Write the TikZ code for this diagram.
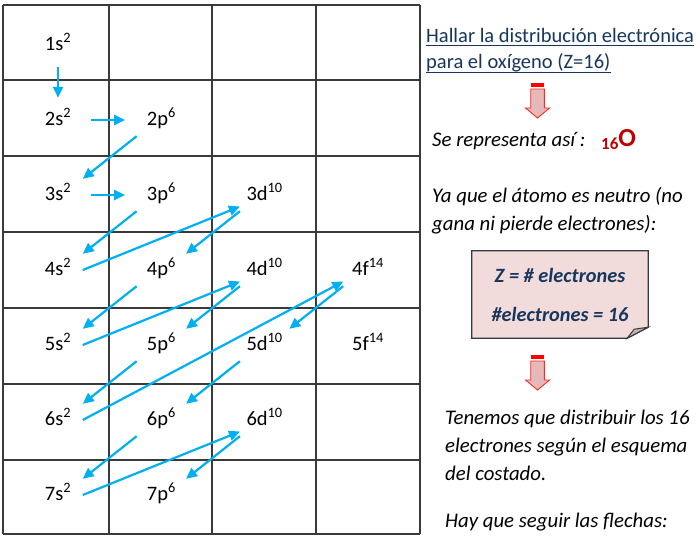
\documentclass[tikz,border=0pt]{standalone}
\usepackage{fontspec}
\setmainfont{Carlito}
\usepackage{xcolor}
\usepackage{tikz}
\usetikzlibrary{matrix}
\usetikzlibrary{arrows.meta}
\usetikzlibrary{backgrounds}
\definecolor{arrowblue}{RGB}{0,176,240}
\definecolor{navy}{RGB}{23,54,93}
\definecolor{darkred}{RGB}{192,0,0}
\definecolor{notepink}{RGB}{242,220,219}
\definecolor{blockpink}{RGB}{230,185,184}
\definecolor{gridgray}{RGB}{58,58,58}

\tikzset{
  bigdown/.pic={
    \fill[red] (-6.8,0) rectangle (6.8,4);
    \draw[red!85, fill=blockpink, line width=0.9pt] (-6.8,6) -- (6.8,6) -- (6.8,25) -- (12,25) -- (0,35) -- (-12,25) -- (-6.8,25) -- cycle;
  }
}

\begin{document}
\begin{tikzpicture}[
    x=1pt, y=-1pt,
    >={Triangle[length=11pt,width=10pt]},
    orbarrow/.style={->, draw=arrowblue, line width=2.2pt},
    across/.style={orbarrow, shorten <=8.5pt, shorten >=11.5pt},
    drop/.style={orbarrow, shorten <=6pt, shorten >=6pt},
    gridline/.style={draw=gridgray, line width=1.5pt},
    heading/.style={inner sep=0pt, anchor=base west, text=navy, font=\fontsize{20.5}{21}\selectfont},
    say/.style={inner sep=0pt, anchor=base west, font=\fontsize{20.8}{21}\selectfont\itshape}
    ]
\useasboundingbox (0,0) rectangle (700,537);
% table of sublevels
\foreach \x in {3,109,212,316,420} \draw[gridline] (\x,5) -- (\x,534);
\foreach \y in {5,80,156,232,308,384,460,534} \draw[gridline] (3,\y) -- (420,\y);
\matrix (m) [matrix of nodes, row sep=43pt, column sep=54.3pt,
    nodes={anchor=center, minimum width=49pt, minimum height=32pt, text height=14pt, text depth=4pt, inner sep=0pt, font=\fontsize{20.5}{24}\selectfont}] at (213,270) {%
1s\textsuperscript{2} & & & \\
2s\textsuperscript{2} & 2p\textsuperscript{6} & & \\
3s\textsuperscript{2} & 3p\textsuperscript{6} & 3d\textsuperscript{10} & \\
4s\textsuperscript{2} & 4p\textsuperscript{6} & 4d\textsuperscript{10} & 4f\textsuperscript{14} \\
5s\textsuperscript{2} & 5p\textsuperscript{6} & 5d\textsuperscript{10} & 5f\textsuperscript{14} \\
6s\textsuperscript{2} & 6p\textsuperscript{6} & 6d\textsuperscript{10} & \\
7s\textsuperscript{2} & 7p\textsuperscript{6} & & \\
};
% filling order
\path (m-1-1) edge[drop] (m-2-1)
      (m-2-1) edge[across] (m-2-2)
      (m-2-2.south west) edge[orbarrow] (m-3-1.north east)
      (m-3-1) edge[across] (m-3-2)
      (m-3-2.south west) edge[orbarrow] (m-4-1.north east)
      (m-4-1.east) edge[orbarrow] (m-3-3.-155)
      (m-3-3.south west) edge[orbarrow] (m-4-2.north east)
      (m-4-2.south west) edge[orbarrow] (m-5-1.north east)
      (m-5-1.east) edge[orbarrow] (m-4-3.-155)
      (m-4-3.south west) edge[orbarrow] (m-5-2.north east)
      (m-5-2.south west) edge[orbarrow] (m-6-1.north east)
      (m-6-1.east) edge[orbarrow] (m-4-4.-155)
      (m-4-4.south west) edge[orbarrow] (m-5-3.north east)
      (m-5-3.south west) edge[orbarrow] (m-6-2.north east)
      (m-6-2.south west) edge[orbarrow] (m-7-1.north east)
      (m-7-1.east) edge[orbarrow] (m-6-3.-155)
      (m-6-3.south west) edge[orbarrow] (m-7-2.north east);
% explanation
\node[heading] (title1) at (426,42.5) {Hallar la distribución electrónica};
\node[heading] (title2) at (426,69) {para el oxígeno (Z=16)};
\draw[navy, line width=0.9pt] ([yshift=-3pt]title1.base west) -- ([yshift=-3pt]title1.base east);
\draw[navy, line width=0.9pt] ([yshift=-3pt]title2.base west) -- ([yshift=-3pt]title2.base east);
\pic at (537.5,83) {bigdown};
\node[say] (repr) at (432,146.5) {Se representa así :};
\node[inner sep=0pt, anchor=base west, text=darkred, font=\bfseries] (symb) at (601,147) {\raisebox{-3pt}{\fontsize{17}{17}\selectfont 16}\fontsize{26}{26}\selectfont O};
\node[say] (neutral1) at (432,202) {Ya que el átomo es neutro (no};
\node[say] (neutral2) at (432,230) {gana ni pierde electrones):};
\node[minimum width=176pt, minimum height=87pt, inner sep=0pt, align=center, text=navy,
      font=\fontsize{20.3}{39}\selectfont\bfseries\itshape] (note) at (560,294.5) {Z = \# electrones\\\#electrones = 16};
\begin{scope}[on background layer]
\filldraw[draw=gridgray, fill=notepink, line width=1.3pt] (note.north west) -- (note.north east) -- ([yshift=11pt]note.south east) -- ([xshift=-21pt]note.south east) -- (note.south west) -- cycle;
\filldraw[draw=gridgray, fill=gray!45!notepink, line width=1pt] ([xshift=-21pt]note.south east) -- ([xshift=-14pt,yshift=9pt]note.south east) -- ([yshift=11pt]note.south east) -- cycle;
\end{scope}
\pic at (537.5,355) {bigdown};
\node[say] (step1) at (445,424) {Tenemos que distribuir los 16};
\node[say] (step2) at (445,452.5) {electrones según el esquema};
\node[say] (step3) at (445,480) {del costado.};
\node[say] (follow) at (445,527) {Hay que seguir las flechas:};
\end{tikzpicture}
\end{document}
